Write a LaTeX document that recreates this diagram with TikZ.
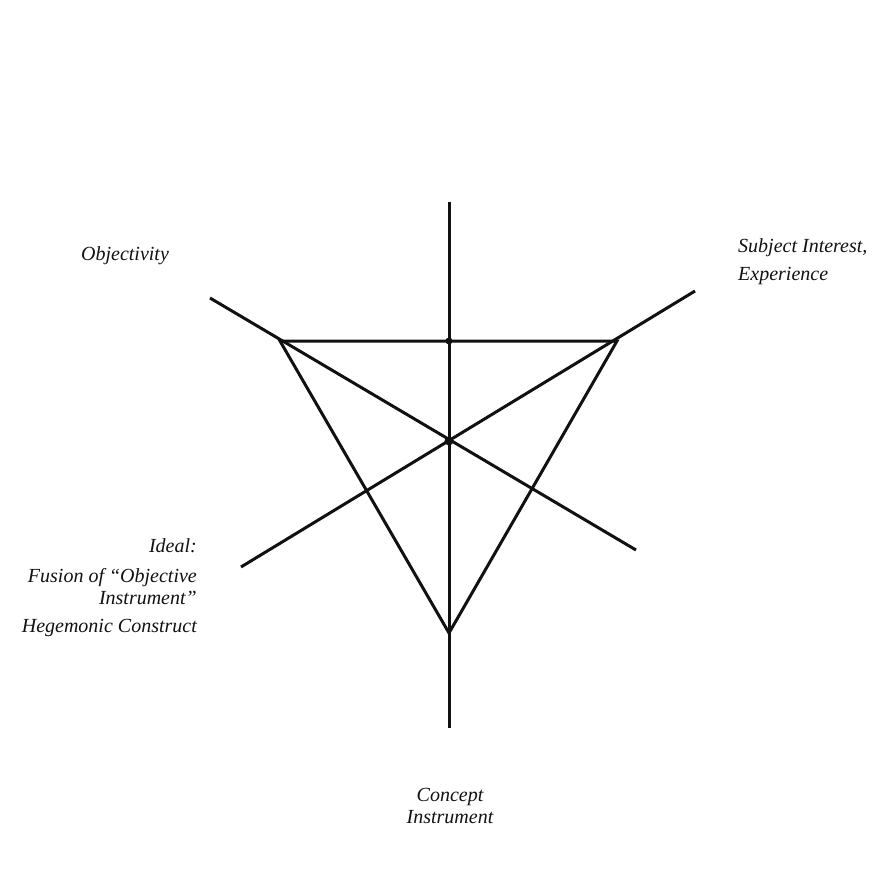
\documentclass[tikz,border=0pt]{standalone}
\usepackage{fontspec}
\setmainfont{Liberation Serif}
\usetikzlibrary{positioning}
\definecolor{spink}{HTML}{111111}
\tikzset{
  sp line/.style={draw=spink, line width=3pt, line cap=butt},
  sp dot/.style={circle, fill=spink, inner sep=0pt, minimum size=#1},
  sp label/.style={font=\itshape\fontsize{20}{22}\selectfont, text=spink, inner sep=0pt}
}

\begin{document}
\begin{tikzpicture}[x=1pt, y=-1pt]
  \useasboundingbox (0,0) rectangle (880,888);
  % centre, triangle corners and ends of the three axes
  \coordinate (ctr) at (449,441);
  \coordinate (top) at (449,202);
  \coordinate (bot) at (449,728);
  \coordinate (ul) at (210,298);
  \coordinate (lr) at (636,550);
  \coordinate (ur) at (695,291);
  \coordinate (ll) at (241,567);
  \coordinate (ta) at (280,341);
  \coordinate (tb) at (617,341);
  \coordinate (tc) at (449,633);
  \coordinate (mid) at (449,341);
  \draw[sp line] (top)--(bot);
  \draw[sp line] (ul)--(lr);
  \draw[sp line] (ur)--(ll);
  \draw[sp line, line join=miter] (ta)--(tb)--(tc)--cycle;
  \node[sp dot=9pt] (hub) at (ctr) {};
  \node[sp dot=7pt] (cross) at (mid) {};
  \node[sp label] (obj) at (125,256) {Objectivity};
  \node[sp label, anchor=west, align=left] (subj) at (738,262) {Subject Interest,\\[6pt] Experience};
  \node[sp label, anchor=north east, align=right] (ideal) at (197,538)
    {Ideal:\\[8pt] Fusion of ``Objective\\[0pt] Instrument''\\[6pt] Hegemonic Construct};
  \node[sp label, align=center] (conc) at (450,806) {Concept\\ Instrument};
\end{tikzpicture}
\end{document}
